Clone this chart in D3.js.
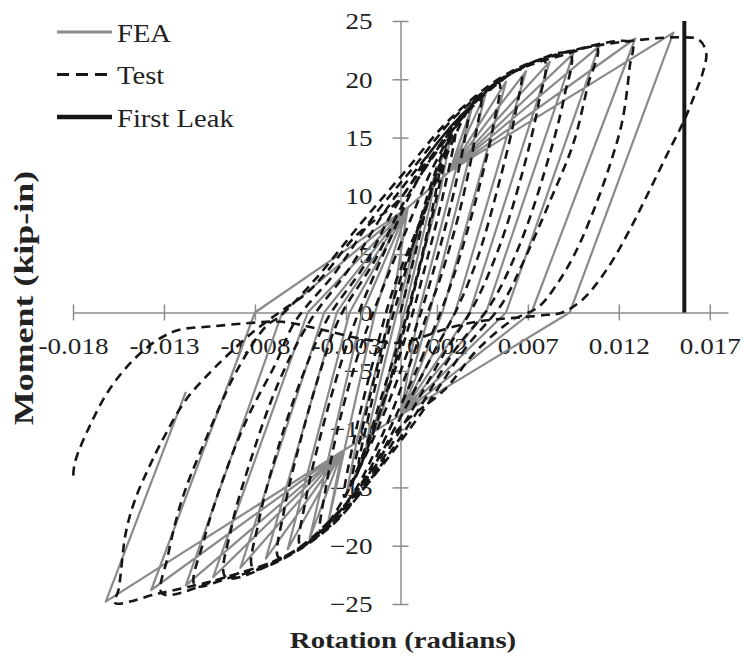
<!DOCTYPE html>
<html>
<head>
<meta charset="utf-8">
<script src="https://cdn.jsdelivr.net/npm/d3@7/dist/d3.min.js"></script>
<style>
  body { margin: 0; background: #ffffff; }
  text { font-family: "Liberation Serif", "Times New Roman", serif; fill: #222; }
</style>
</head>
<body>
<svg id="chart" width="744" height="660"></svg>
<script>
// Axis ticks
const xTicks = [-0.018, -0.013, -0.008, -0.003, 0.002, 0.007, 0.012, 0.017];
const xTickLabels = ["-0.018", "-0.013", "-0.008", "-0.003", "0.002", "0.007", "0.012", "0.017"];
const yTicks = [-25, -20, -15, -10, -5, 0, 5, 10, 15, 20, 25];

// Series names
const seriesNames = ["FEA", "Test", "First Leak"];

// FEA hysteresis: [rotation (rad), moment (kip-in)]
const feaPoints = [
  [0, 0], [0.0012, 8.0], [0.0020, 12.5], [0.0016, 9.0], [0.0002, 0], [-0.0010, -7.5], [-0.0020, -12.5], [-0.0016, -9.0], [-0.0002, 0],
  [0.0012, 8.5], [0.0028, 15.5], [0.0022, 10.5], [0.0004, 0], [-0.0010, -8.5], [-0.0030, -15.8], [-0.0024, -11.0], [-0.0005, 0],
  [0.0004, 9.0], [0.0027, 12.1], [0.0040, 18.0], [0.0010, 0], [0.0, -8.8], [-0.0032, -11.9], [-0.0040, -18.2], [-0.0014, 0],
  [0.0004, 9.0], [0.0027, 12.1], [0.0047, 18.9], [0.0016, 0], [0.0, -8.8], [-0.0032, -11.9], [-0.0050, -19.4], [-0.0021, 0],
  [0.0004, 9.0], [0.0027, 12.1], [0.0058, 19.8], [0.0023, 0], [0.0, -8.8], [-0.0032, -11.9], [-0.0062, -20.3], [-0.0028, 0],
  [0.0004, 9.0], [0.0027, 12.1], [0.0069, 20.7], [0.0030, 0], [0.0, -8.8], [-0.0032, -11.9], [-0.0074, -21.1], [-0.0035, 0],
  [0.0004, 9.0], [0.0027, 12.1], [0.0082, 21.5], [0.0038, 0], [0.0, -8.8], [-0.0032, -11.9], [-0.0088, -21.9], [-0.0042, 0],
  [0.0004, 9.0], [0.0027, 12.1], [0.0095, 22.2], [0.0047, 0], [0.0, -8.8], [-0.0032, -11.9], [-0.0103, -22.7], [-0.0051, 0],
  [0.0004, 9.0], [0.0027, 12.1], [0.0109, 22.8], [0.0058, 0], [0.0, -8.8], [-0.0032, -11.9], [-0.0118, -23.4], [-0.0065, 0],
  [0.0004, 9.0], [0.0027, 12.1], [0.0129, 23.5], [0.0072, 0], [0.0, -8.8], [-0.0032, -11.9], [-0.0137, -23.8], [-0.0080, 0],
  [0.0004, 9.0], [0.0027, 12.1], [0.0150, 24.0], [0.0093, 0], [0.0, -8.8], [-0.0032, -11.9], [-0.0162, -24.8], [-0.0118, -6.8]
];

// Test hysteresis: [rotation (rad), moment (kip-in)]
const testPoints = [
  [0, 0], [0.0008, 5], [0.0016, 10], [0.0022, 12.8], [0.0017, 8.5], [0.0008, 2.5], [0.0, -2], [-0.0010, -7], [-0.0018, -11], [-0.0023, -13.0], [-0.0017, -8.5], [-0.0008, -2.5], [0.0, 2],
  [0.0010, 7.5], [0.0019, 12], [0.0026, 14.6], [0.0020, 10], [0.0010, 3.5], [0.0002, -1.5], [-0.0008, -7], [-0.0019, -12], [-0.0027, -14.8], [-0.0021, -10], [-0.0011, -3.5], [-0.0003, 1.5],
  [0.0012, 8], [0.0022, 12.8], [0.0030, 15.5], [0.0024, 10.5], [0.0012, 3], [0.0003, -2], [-0.0010, -8], [-0.0022, -12.8], [-0.0031, -15.8], [-0.0025, -10.5], [-0.0013, -3], [-0.0004, 2],
  [0.0010, 7.5], [0.0024, 13], [0.0037, 17.2], [0.0031, 11.5], [0.0018, 3.5], [0.0008, -1.5], [-0.0006, -7.5], [-0.0022, -13.2], [-0.0036, -17.2], [-0.0044, -18.8], [-0.0041, -15], [-0.0033, -9], [-0.0022, -3], [-0.0015, 0],
  [0.0003, 7], [0.0018, 12.5], [0.0032, 16.3], [0.0044, 18.6], [0.0041, 15], [0.0033, 9], [0.0022, 3], [0.0015, 0], [0.0005, -4.5], [-0.0010, -10.5], [-0.0026, -15.5], [-0.0042, -18.5], [-0.0055, -20.0], [-0.0052, -16], [-0.0043, -10], [-0.0031, -3.5], [-0.0023, 0],
  [-0.0008, 5.5], [0.0010, 11.5], [0.0032, 16.4], [0.0054, 19.7], [0.0051, 16], [0.0042, 10], [0.0030, 3.5], [0.0022, 0], [0.0010, -4.5], [-0.0006, -10], [-0.0022, -14.8], [-0.0040, -18.2], [-0.0055, -20.1], [-0.0067, -21.0], [-0.0064, -17], [-0.0055, -11], [-0.0043, -4.5], [-0.0033, -0.3],
  [-0.0014, 4.5], [0.0002, 9.5], [0.0020, 13.8], [0.0038, 17.4], [0.0054, 19.7], [0.0066, 20.8], [0.0063, 17], [0.0054, 11], [0.0042, 4.5], [0.0031, 0.3], [0.0018, -3.5], [0.0, -9], [-0.0018, -14], [-0.0038, -18], [-0.0060, -20.6], [-0.0081, -21.9], [-0.0078, -18], [-0.0068, -12], [-0.0054, -5.5], [-0.0040, -0.5],
  [-0.0020, 4], [-0.0003, 9], [0.0016, 13.2], [0.0036, 17.2], [0.0058, 20.2], [0.0079, 21.6], [0.0076, 18], [0.0067, 12], [0.0054, 5.5], [0.0040, 0.5], [0.0024, -3.5], [0.0004, -9], [-0.0016, -14], [-0.0038, -18.2], [-0.0065, -21.1], [-0.0096, -22.7], [-0.0093, -18.5], [-0.0082, -12.5], [-0.0067, -6], [-0.0050, -0.8],
  [-0.0028, 3.8], [-0.0008, 8.8], [0.0012, 12.9], [0.0034, 17], [0.0060, 20.4], [0.0093, 22.2], [0.0090, 18.5], [0.0080, 12.5], [0.0066, 6], [0.0050, 0.8], [0.0030, -3.2], [0.0008, -8.8], [-0.0014, -13.8], [-0.0038, -18.3], [-0.0068, -21.4], [-0.0095, -22.8], [-0.0113, -23.4], [-0.0108, -19.5], [-0.0098, -14.5], [-0.0084, -9], [-0.0069, -4.5], [-0.0058, -0.8],
  [-0.0036, 3.4], [-0.0014, 8.4], [0.0008, 12.6], [0.0032, 17.1], [0.0062, 20.6], [0.0090, 22.1], [0.0108, 22.7], [0.0103, 19.5], [0.0095, 14.5], [0.0082, 9.5], [0.0068, 4.5], [0.0056, 0.8], [0.0036, -3], [0.0012, -8.5], [-0.0012, -13.5], [-0.0036, -17.9], [-0.0062, -20.8], [-0.0096, -22.7], [-0.0131, -24.1], [-0.0128, -21], [-0.0120, -16], [-0.0106, -10.5], [-0.0090, -5], [-0.0074, -1.2], [-0.0066, -0.3],
  [-0.0046, 3], [-0.0022, 7.6], [0.0002, 12], [0.0028, 16.7], [0.0060, 20.6], [0.0095, 22.5], [0.0127, 23.1], [0.0126, 21.1], [0.0122, 16.5], [0.0116, 13.1], [0.0107, 9.1], [0.0096, 5.1], [0.0085, 2.2], [0.0076, 0.5], [0.0060, -0.8], [0.0041, -3.4], [0.0025, -6.5], [0.0, -9.8], [-0.0017, -13.9], [-0.0036, -17.4], [-0.0060, -20.6], [-0.0096, -22.7], [-0.0133, -24.1], [-0.0157, -24.9],
  [-0.0155, -23.8], [-0.0151, -18.9], [-0.0146, -16.1], [-0.0138, -13.2], [-0.0129, -10.4], [-0.0118, -7.5], [-0.0105, -5.2], [-0.0094, -3.5], [-0.0082, -1.8], [-0.0072, -0.6], [-0.0063, 0.4], [-0.0052, 1.6], [-0.0041, 3.4], [-0.0025, 6.5], [0.0, 9.8], [0.0017, 13.9], [0.0038, 17.6], [0.0060, 20.5], [0.0096, 22.5], [0.0133, 23.4], [0.0155, 23.6], [0.0164, 23.4], [0.0168, 22.3], [0.0166, 20.5], [0.0162, 18.8], [0.0156, 16.5], [0.0147, 13.7], [0.0136, 10.2], [0.0125, 6.8], [0.0113, 3.6], [0.0100, 1.1], [0.0089, 0],
  [0.0081, -0.2], [0.0067, -0.4], [0.0052, -0.6], [0.0038, -0.9], [0.0023, -1.5], [0.0012, -2.1], [0.0, -2.6], [-0.0020, -2.3], [-0.0045, -1.4], [-0.0065, -0.8], [-0.0083, -0.9], [-0.0104, -1.2], [-0.0122, -1.5], [-0.0134, -2.4], [-0.0147, -4.1], [-0.0160, -6.6], [-0.0171, -9.8], [-0.0179, -12.9], [-0.0180, -14.5]
];

// First leak marker: vertical line at the leak rotation
const firstLeakPoints = [[0.0156, 0], [0.0156, 25]];

const axisColor = "#8c8c8c";
const feaColor = "#8a8a8a";
const testColor = "#161616";
const leakColor = "#161616";
const stretch = 1.18;

const svg = d3.select("#chart");

const x = d3.scaleLinear().domain([-0.018, 0.018]).range([73, 728]);
const y = d3.scaleLinear().domain([-25, 25]).range([604, 21]);

// X axis through y = 0 with crossing tick marks
const gx = svg.append("g")
  .attr("transform", `translate(0,${y(0)})`)
  .call(d3.axisBottom(x).tickValues(xTicks).tickFormat((d, i) => xTickLabels[i]).tickSize(8).tickSizeOuter(0));
gx.select(".domain").attr("stroke", axisColor).attr("stroke-width", 1.5);
gx.selectAll(".tick line").attr("y1", -8).attr("y2", 8).attr("stroke", axisColor).attr("stroke-width", 1.5);
gx.selectAll(".tick text")
  .attr("x", 0).attr("y", 0).attr("dy", null)
  .attr("transform", `translate(0,41.5) scale(${stretch},1)`)
  .attr("font-size", 23).attr("font-family", "Liberation Serif").attr("fill", "#222");

// Y axis through x = 0
const gy = svg.append("g")
  .attr("transform", `translate(${x(0)},0)`)
  .call(d3.axisLeft(y).tickValues(yTicks).tickFormat(d3.format("d")).tickSize(8).tickSizeOuter(0));
gy.select(".domain").attr("stroke", axisColor).attr("stroke-width", 1.5);
gy.selectAll(".tick line").attr("x1", 8).attr("x2", -8).attr("stroke", axisColor).attr("stroke-width", 1.5);
gy.selectAll(".tick text")
  .attr("x", 0).attr("y", 0).attr("dy", "0.34em")
  .attr("transform", `translate(-28,0) scale(${stretch},1)`)
  .attr("text-anchor", "end")
  .attr("font-size", 23).attr("font-family", "Liberation Serif").attr("fill", "#222");

// Axis titles
svg.append("text")
  .attr("transform", `translate(403,648) scale(1.2,1)`)
  .attr("text-anchor", "middle")
  .attr("font-size", 24).attr("font-weight", "bold")
  .text("Rotation (radians)");

svg.append("text")
  .attr("transform", `translate(33,298) rotate(-90) scale(1.33,1)`)
  .attr("text-anchor", "middle")
  .attr("font-size", 27).attr("font-weight", "bold")
  .text("Moment (kip-in)");

// Series
const line = d3.line().x(d => x(d[0])).y(d => y(d[1]));
const smooth = d3.line().x(d => x(d[0])).y(d => y(d[1])).curve(d3.curveCatmullRom.alpha(0.5));

svg.append("path").datum(feaPoints)
  .attr("d", line)
  .attr("fill", "none").attr("stroke", feaColor).attr("stroke-width", 2.2).attr("stroke-linejoin", "round");

svg.append("path").datum(testPoints)
  .attr("d", smooth)
  .attr("fill", "none").attr("stroke", testColor).attr("stroke-width", 2.6).attr("stroke-dasharray", "9,6");

svg.append("path").datum(firstLeakPoints)
  .attr("d", line)
  .attr("fill", "none").attr("stroke", leakColor).attr("stroke-width", 4);

// Legend
const legend = svg.append("g");
const legendStyles = [
  { color: feaColor, width: 3, dash: null },
  { color: testColor, width: 3, dash: "12,7" },
  { color: leakColor, width: 4.5, dash: null }
];
seriesNames.forEach((name, i) => {
  const cy = 32 + i * 42.5;
  const st = legendStyles[i];
  legend.append("line")
    .attr("x1", 57).attr("x2", 112).attr("y1", cy).attr("y2", cy)
    .attr("stroke", st.color).attr("stroke-width", st.width)
    .attr("stroke-dasharray", st.dash);
  legend.append("text")
    .attr("transform", `translate(117,${cy + 9.5}) scale(1.1,1)`)
    .attr("font-size", 26)
    .text(name);
});
</script>
</body>
</html>
